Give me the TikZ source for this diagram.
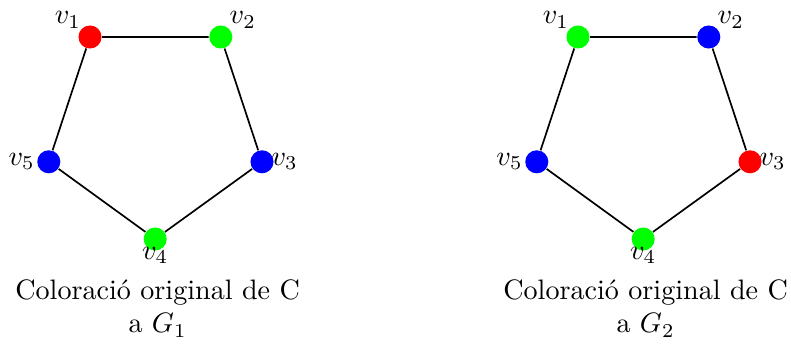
\documentclass[tikz,border=0pt]{standalone}
\usepackage{amsmath}
\usepackage{amssymb}

\tikzset{
  vertex/.style={circle, inner sep=0pt, minimum size=8.2pt},
  every label/.style={inner sep=0.5pt},
}

\begin{document}
\begin{tikzpicture}[label distance=-0.8pt]
  \useasboundingbox (0,0) rectangle (9.8875,4.3625);
  \foreach \dx/\ca/\cb/\cc/\cd/\ce/\g in {0/red/green/blue/green/blue/1, 6.1/green/blue/red/green/blue/2} {
    \begin{scope}[xshift=\dx cm]
      \node[vertex, fill=\ca, label=above left:$v_1$] (v1-\g) at (1.125,3.9) {};
      \node[vertex, fill=\cb, label=above right:$v_2$] (v2-\g) at (2.76,3.9) {};
      \node[vertex, fill=\cc, label={[label distance=-1.6pt]right:$v_3$}] (v3-\g) at (3.275,2.34) {};
      \node[vertex, fill=\cd, label={[label distance=-2pt]below:$v_4$}] (v4-\g) at (1.94,1.375) {};
      \node[vertex, fill=\ce, label={[label distance=0pt]left:$v_5$}] (v5-\g) at (0.61,2.34) {};
      \draw[line width=0.6pt] (v1-\g) -- (v2-\g) -- (v3-\g) -- (v4-\g) -- (v5-\g) -- (v1-\g);
      \node[align=center] (cap-\g) at (1.97,0.51) {Coloració original de C\\ a $G_\g$};
    \end{scope}
  }
\end{tikzpicture}
\end{document}
